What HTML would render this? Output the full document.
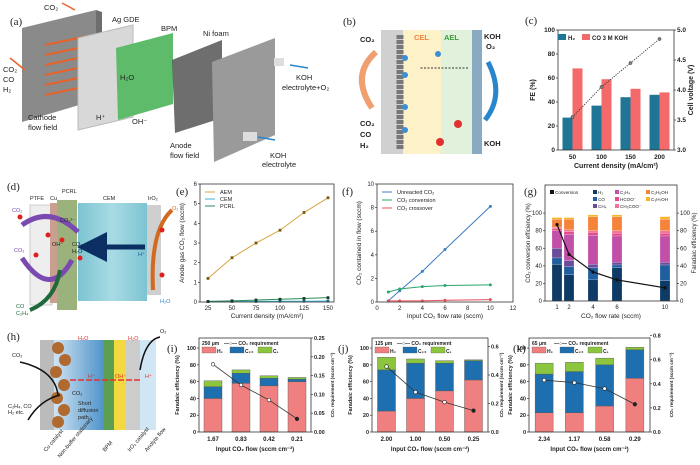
<!DOCTYPE html>
<html><head><meta charset="utf-8"><style>
html,body{margin:0;padding:0;background:#fff;width:700px;height:465px;overflow:hidden}
svg{display:block;font-family:"Liberation Sans",sans-serif}
text{fill:#222}
</style></head><body>
<svg id="fig" width="700" height="465" viewBox="0 0 700 465" xmlns="http://www.w3.org/2000/svg">
<defs>
<linearGradient id="cemg" x1="0" x2="1"><stop offset="0" stop-color="#7cc4d2"/><stop offset="0.5" stop-color="#a9dbe4"/><stop offset="1" stop-color="#7cc4d2"/></linearGradient>
<linearGradient id="hg" x1="0" x2="1"><stop offset="0" stop-color="#cfe4f3"/><stop offset="1" stop-color="#4f93c9"/></linearGradient>
<marker id="ah" markerWidth="6" markerHeight="6" refX="3" refY="3" orient="auto"><path d="M0,0 L6,3 L0,6 z" fill="context-stroke"/></marker>
</defs>
<g>
<text x="10" y="25" font-family="Liberation Serif" font-size="11">(a)</text>
<polygon points="22,28 96,10 96,100 22,122" fill="#8a8a8a"/>
<polygon points="96,10 102,12 102,102 96,100" fill="#6e6e6e"/>
<g stroke="#e8632a" stroke-width="2" fill="none"><path d="M45,45 L88,36 M45,55 L88,46 M45,65 L88,56 M45,75 L88,66 M45,85 L88,76 M45,95 L88,86"/></g>
<polygon points="78,38 133,25 133,117 78,130" fill="#d8d8d8" stroke="#bbb"/>
<polygon points="116,48 173,33 173,104 118,120" fill="#5dbb6a"/>
<polygon points="172,60 222,40 222,118 175,133" fill="#555" opacity="0.85"/>
<polygon points="212,62 275,38 275,135 214,162" fill="#9a9a9a"/>
<rect x="274" y="58" width="10" height="8" fill="#ddd"/><rect x="243" y="132" width="14" height="9" fill="#ddd"/>
<line x1="75" y1="10" x2="62" y2="3" stroke="#e8632a" stroke-width="1.5"/>
<line x1="25" y1="70" x2="10" y2="58" stroke="#e8632a" stroke-width="1.5"/>
<line x1="290" y1="65" x2="308" y2="68" stroke="#2a86cc" stroke-width="1.5"/>
<line x1="275" y1="140" x2="258" y2="137" stroke="#2a86cc" stroke-width="1.5"/>
<g font-size="7.5">
<text x="44" y="10">CO₂</text><text x="112" y="22">Ag GDE</text><text x="161" y="31">BPM</text><text x="203" y="36">Ni foam</text>
<text x="3" y="72">CO₂</text><text x="3" y="82">CO</text><text x="3" y="92">H₂</text>
<text x="28" y="120">Cathode</text><text x="28" y="130">flow field</text>
<text x="96" y="120">H⁺</text><text x="120" y="80">H₂O</text><text x="132" y="124">OH⁻</text>
<text x="296" y="80">KOH</text><text x="282" y="90">electrolyte+O₂</text>
<text x="170" y="148">Anode</text><text x="170" y="158">flow field</text>
<text x="270" y="158">KOH</text><text x="262" y="167">electrolyte</text>
</g></g>
<g>
<text x="343" y="25" font-family="Liberation Serif" font-size="11">(b)</text>
<rect x="381" y="30" width="22" height="124" fill="#d0d0d0"/>
<rect x="403" y="30" width="38" height="124" fill="#fdf1c8"/>
<rect x="441" y="30" width="31" height="124" fill="#e1f1dc"/>
<rect x="472" y="30" width="10" height="124" fill="#8aa9c2"/>
<line x1="400" y1="35" x2="400" y2="150" stroke="#777" stroke-width="7" stroke-dasharray="4,1"/>
<g fill="#3a8fd6"><circle cx="405" cy="58" r="3"/><circle cx="405" cy="75" r="3"/><circle cx="405" cy="107" r="3"/><circle cx="405" cy="130" r="3"/><circle cx="438" cy="54" r="3"/></g>
<line x1="468" y1="68" x2="420" y2="68" stroke="#333" stroke-dasharray="2,1.5"/>
<path d="M376,52 Q350,75 372,108" stroke="#f0a070" stroke-width="6" fill="none"/>
<g font-size="7.5" font-weight="bold"><text x="360" y="42">CO₂</text><text x="360" y="126">CO₂</text><text x="360" y="137">CO</text><text x="360" y="148">H₂</text>
<text x="414" y="40" style="fill:#f08040">CEL</text><text x="444" y="40" style="fill:#3c9a3c">AEL</text>
<text x="484" y="39">KOH</text><text x="486" y="49">O₂</text><text x="484" y="146">KOH</text></g>
<path d="M488,62 Q505,95 485,120" stroke="#2a86cc" stroke-width="5" fill="none"/>
<circle cx="458" cy="124" r="4" fill="#e03030"/><circle cx="440" cy="142" r="4" fill="#e03030"/>
</g>
<g>
<text x="7" y="190" font-family="Liberation Serif" font-size="11">(d)</text>
<rect x="30" y="205" width="22" height="100" fill="#eee" stroke="#ccc"/>
<rect x="50" y="203" width="10" height="100" fill="#c9a090"/>
<rect x="57" y="200" width="20" height="110" fill="#9bb27c"/>
<rect x="78" y="203" width="69" height="98" fill="url(#cemg)"/>
<rect x="147" y="205" width="14" height="90" fill="#cfcfcf"/>
<line x1="145" y1="247" x2="92" y2="247" stroke="#0b2f63" stroke-width="5" marker-end="url(#ah)"/>
<path d="M22,225 Q50,205 78,232" stroke="#7a4ab0" stroke-width="5" fill="none"/>
<path d="M72,260 Q50,300 22,258" stroke="#7a4ab0" stroke-width="5" fill="none"/>
<path d="M60,270 Q55,300 30,310" stroke="#1f6a3a" stroke-width="4" fill="none"/>
<path d="M153,290 Q150,230 172,210" stroke="#d06a20" stroke-width="4" fill="none"/>
<g fill="#e02020"><circle cx="20" cy="217" r="2.5"/><circle cx="48" cy="235" r="2.5"/><circle cx="62" cy="240" r="2.5"/><circle cx="80" cy="258" r="2.5"/><circle cx="36" cy="255" r="2.5"/><circle cx="162" cy="230" r="2.5"/><circle cx="162" cy="275" r="2.5"/></g>
<g font-size="5.5"><text x="30" y="200">PTFE</text><text x="50" y="200">Cu</text><text x="62" y="193">PCRL</text><text x="103" y="200">CEM</text><text x="148" y="200">IrO₂</text>
<text x="12" y="212" style="fill:#7a4ab0">CO₂</text><text x="14" y="252" style="fill:#7a4ab0">CO₂</text><text x="60" y="222">CO₃²⁻</text><text x="52" y="246">OH⁻</text><text x="72" y="246">CO₂</text><text x="72" y="253">H₂O</text><text x="138" y="256" style="fill:#1a5aa0">H⁺</text>
<text x="172" y="210" style="fill:#d06a20">O₂</text><text x="160" y="303" style="fill:#2a86cc">H₂O</text><text x="16" y="308" style="fill:#1f6a3a">CO</text><text x="16" y="315" style="fill:#1f6a3a">C₂H₄</text></g>
</g>
<g>
<text x="7" y="340" font-family="Liberation Serif" font-size="11">(h)</text>
<rect x="40" y="340" width="14" height="90" fill="#bbb"/>
<rect x="54" y="340" width="50" height="90" fill="url(#hg)"/>
<rect x="104" y="340" width="10" height="90" fill="#5aa050"/>
<rect x="114" y="340" width="12" height="90" fill="#f2d940"/>
<rect x="126" y="340" width="14" height="90" fill="#ccc"/>
<rect x="140" y="340" width="16" height="90" fill="#d0e6f4"/>
<g fill="#b06a30"><circle cx="58" cy="348" r="6"/><circle cx="65" cy="360" r="6"/><circle cx="56" cy="372" r="6"/><circle cx="64" cy="385" r="6"/><circle cx="57" cy="398" r="6"/><circle cx="64" cy="410" r="6"/><circle cx="58" cy="422" r="6"/></g>
<line x1="140" y1="380" x2="68" y2="380" stroke="#e83030" stroke-width="1.5" stroke-dasharray="6,2"/>
<path d="M20,362 Q55,370 58,395 M60,395 Q40,400 28,420" stroke="#111" stroke-width="1.5" fill="none"/>
<path d="M140,370 Q145,340 160,337" stroke="#111" stroke-width="1.5" fill="none"/>
<g font-size="5.5"><text x="12" y="357">CO₂</text><text x="8" y="408">C₂H₄, CO</text><text x="8" y="414">H₂ etc.</text>
<text x="78" y="340" style="fill:#e03030">H₂O</text><text x="128" y="340" style="fill:#e03030">H₂O</text><text x="160" y="333">O₂</text>
<text x="88" y="378" style="fill:#e03030">H⁺</text><text x="115" y="378" style="fill:#e03030">OH⁻</text><text x="145" y="378" style="fill:#e03030">H⁺</text>
<text x="72" y="395">CO₂</text><text x="78" y="405">Short</text><text x="78" y="412">diffusion</text><text x="78" y="419">path</text>
<text transform="translate(46,452) rotate(-50)">Cu catalyst</text><text transform="translate(60,458) rotate(-50)">Non-buffer stationary</text><text transform="translate(105,452) rotate(-50)">BPM</text><text transform="translate(130,452) rotate(-50)">IrO₂ catalyst</text><text transform="translate(147,452) rotate(-50)">Anolyte flow</text></g>
</g>
</svg>
<script>
const NS='http://www.w3.org/2000/svg';
const svg=document.getElementById('fig');
function el(tag,attrs,parent){const e=document.createElementNS(NS,tag);for(const k in attrs)e.setAttribute(k,attrs[k]);(parent||svg).appendChild(e);return e;}
function txt(s,x,y,size,anchor,parent,extra){const t=el('text',Object.assign({x:x,y:y,'font-size':size,'text-anchor':anchor||'start'},extra||{}),parent);t.textContent=s;return t;}
function lin(d0,d1,r0,r1){return v=>r0+(v-d0)/(d1-d0)*(r1-r0);}

const cCats=['50','100','150','200'];
const cH2=[27,37,44,46];
const cCO=[68,59,51,48];
const cVolt=[3.55,4.05,4.45,4.85];
const cLeftTicks=[0,20,40,60,80,100];
const cRightTicks=[3.0,3.5,4.0,4.5,5.0];
const eX=[25,50,75,100,125,150];
const eAEM=[1.2,2.25,3.0,3.65,4.55,5.3];
const eCEM=[0.02,0.03,0.03,0.04,0.04,0.05];
const ePCRL=[0.03,0.06,0.1,0.14,0.18,0.22];
const eYTicks=[0,1,2,3,4,5,6];
const fX=[1,2,4,6,10];
const fUnreacted=[0.1,0.95,2.6,4.45,8.1];
const fConversion=[0.85,1.1,1.3,1.4,1.45];
const fCrossover=[0.1,0.1,0.1,0.15,0.2];
const fXTicks=[0,2,4,6,8,10,12];
const fYTicks=[0,2,4,6,8,10];
const gX=[1,2,4,6,10];
const gH2=[42,30,24,38,23];
const gCO=[7,9,14,3,18];
const gCH4=[11,7,4,3,3];
const gC2H4=[20,30,33,30,30];
const gHCOO=[2,3,3,3,3];
const gCH3COO=[2,2,2,3,3];
const gC2H5OH=[9,12,16,16,13];
const gC3H7OH=[2,2,2,2,3];
const gConversion=[87,53,33,24,15];
const gYTicks=[0,20,40,60,80,100];
const iCats=['1.67','0.83','0.42','0.21'];
const iH2=[40,58,55,60];
const iC2=[14,12,9,3];
const iC1=[7,4,3,2];
const iReq=[0.18,0.125,0.085,0.035];
const iRTicks=[0,0.05,0.10,0.15,0.20,0.25];
const jCats=['2.00','1.00','0.50','0.25'];
const jH2=[25,40,49,62];
const jC2=[49,42,33,23];
const jC1=[15,5,3,1];
const jReq=[0.46,0.28,0.21,0.15];
const jRTicks=[0,0.2,0.4,0.6];
const kCats=['2.34','1.17','0.58','0.29'];
const kH2=[23,23,31,64];
const kC2=[46,49,49,34];
const kC1=[13,11,8,3];
const kReq=[0.43,0.41,0.36,0.23];
const kRTicks=[0,0.2,0.4,0.6,0.8];
const ijkLeftTicks=[0,20,40,60,80,100];

function frame(x0,y0,x1,y1,name){const r=el('rect',{x:x0,y:y0,width:x1-x0,height:y1-y0,fill:'none',stroke:'#333','stroke-width':0.8});


return r;}
function yTicks(vals,sc,x,side,fmt,size,bold){vals.forEach(v=>{const y=sc(v);el('line',{x1:x,x2:x+(side<0?-2:2),y1:y,y2:y,stroke:'#333','stroke-width':0.7});
const t=txt(fmt(v),x+(side<0?-3:3),y+2,size||5.5,side<0?'end':'start',null,bold?{'font-weight':'bold'}:{});

});}
function xLabel(s,x,y,size,bold){const t=txt(s,x,y,size||5.5,'middle',null,bold?{'font-weight':'bold'}:{});


return t;}
function vTitle(s,x,y,size,name,bold){const t=txt(s,0,0,size||6,'middle',null,Object.assign({transform:`translate(${x},${y}) rotate(-90)`},bold?{'font-weight':'bold'}:{}));

}
function hTitle(s,x,y,size,name,bold){const t=txt(s,x,y,size||6.5,'middle',null,bold?{'font-weight':'bold'}:{});

}
function plabel(s,x,y){const t=txt(s,x,y,11,'start',null,{'font-family':'Liberation Serif'});

}

(function(){const X0=558,X1=674,Y0=30,Y1=150;
plabel('(c)',525,24);
const yl=lin(0,100,Y1,Y0),yr=lin(3,5,Y1,Y0);const bw=(X1-X0)/cCats.length;
cCats.forEach((c,i)=>{const cx=X0+bw*(i+0.5);
const b1=el('rect',{x:cx-10,y:yl(cH2[i]),width:10,height:Y1-yl(cH2[i]),fill:'#1f7595'});


const b2=el('rect',{x:cx,y:yl(cCO[i]),width:10,height:Y1-yl(cCO[i]),fill:'#f46a6a'});


xLabel(c,cx,Y1+9,6.5,true);});
const pts=cVolt.map((v,i)=>[X0+bw*(i+0.5),yr(v)]);
const pl=el('polyline',{points:pts.map(p=>p.join(',')).join(' '),fill:'none',stroke:'#333','stroke-width':0.9,'stroke-dasharray':'1.2,1.2'});


pts.forEach(p=>{const m=el('circle',{cx:p[0],cy:p[1],r:1.6,fill:'#888',stroke:'#333','stroke-width':0.5});

});
frame(X0,Y0,X1,Y1,'plot-frame-c');
yTicks(cLeftTicks,yl,X0,-1,v=>v,6.5,true);yTicks(cRightTicks,yr,X1,1,v=>v.toFixed(1),6.5,true);
vTitle('FE (%)',535,90,7,'y-axis-title-fe',true);vTitle('Cell voltage (V)',693,90,7,'y-axis-title-voltage',true);
hTitle('Current density (mA/cm²)',616,168,7,'x-axis-title-c',true);
const l1=el('rect',{x:558,y:34,width:8,height:6,fill:'#1f7595'});
txt('H₂',568,40,6,'start',null,{'font-weight':'bold'});
const l2=el('rect',{x:582,y:34,width:8,height:6,fill:'#f46a6a'});
txt('CO  3 M KOH',592,40,6,'start',null,{'font-weight':'bold'});})();

(function(){const X0=200,X1=334,Y0=184,Y1=302;
plabel('(e)',176,195);
const xs=lin(25,150,208,328),ys=lin(0,6,Y1,Y0);
[[eAEM,'#d9a441','aem-line','#7a5a10'],[eCEM,'#3ab3d4','cem-line','#1a6a80'],[ePCRL,'#2e8b5c','pcrl-line','#123a24']].forEach(s=>{
const pl=el('polyline',{points:eX.map((x,i)=>xs(x)+','+ys(s[0][i])).join(' '),fill:'none',stroke:s[1],'stroke-width':1});


eX.forEach((x,i)=>{const m=el('rect',{x:xs(x)-1.4,y:ys(s[0][i])-1.4,width:2.8,height:2.8,fill:s[3]});

});});
frame(X0,Y0,X1,Y1,'plot-frame-e');
yTicks(eYTicks,ys,X0,-1,v=>v,6);eX.forEach(x=>xLabel(x,xs(x),Y1+8,6));
vTitle('Anode gas CO₂ flow (sccm)',184,243,6.5,'y-axis-title-e');hTitle('Current density (mA/cm²)',267,318,6.5,'x-axis-title-e');
[['AEM','#d9a441',194],['CEM','#3ab3d4',201],['PCRL','#2e8b5c',208]].forEach(l=>{const ln=el('line',{x1:205,x2:215,y1:l[2]-2,y2:l[2]-2,stroke:l[1],'stroke-width':1});


txt(l[0],220,l[2],5.5);});})();

(function(){const X0=377,X1=513,Y0=184,Y1=302;
plabel('(f)',342,195);
const xs=lin(0,12,X0,X1),ys=lin(0,10,Y1,Y0);
[[fUnreacted,'#3b7dc0','unreacted-co2-line'],[fConversion,'#2aa86a','co2-conversion-line'],[fCrossover,'#e8505a','co2-crossover-line']].forEach(s=>{
const pl=el('polyline',{points:fX.map((x,i)=>xs(x)+','+ys(s[0][i])).join(' '),fill:'none',stroke:s[1],'stroke-width':1});


fX.forEach((x,i)=>{const m=el('circle',{cx:xs(x),cy:ys(s[0][i]),r:1.5,fill:s[1]});

});});
frame(X0,Y0,X1,Y1,'plot-frame-f');
yTicks(fYTicks,ys,X0,-1,v=>v,6);fXTicks.forEach(x=>xLabel(x,xs(x),Y1+8,6));
vTitle('CO₂ contained in flow (sccm)',361,243,6.5,'y-axis-title-f');hTitle('Input CO₂ flow rate (sccm)',445,318,6.5,'x-axis-title-f');
[['Unreacted CO₂','#3b7dc0',194],['CO₂ conversion','#2aa86a',202],['CO₂ crossover','#e8505a',210]].forEach(l=>{const ln=el('line',{x1:382,x2:392,y1:l[2]-2,y2:l[2]-2,stroke:l[1],'stroke-width':1});


txt(l[0],397,l[2],5.5);});})();

(function(){const X0=545,X1=677,Y0=185,Y1=301;
plabel('(g)',524,195);
const xs=lin(0,11,X0,X1),ys=lin(0,132,Y1,Y0);
const series=[[gH2,'#0e3a66','bar-h2'],[gCO,'#1f5f9f','bar-co'],[gCH4,'#6b4c9a','bar-ch4'],[gC2H4,'#c24fa8','bar-c2h4'],[gHCOO,'#e84a8a','bar-hcoo'],[gCH3COO,'#f27596','bar-ch3coo'],[gC2H5OH,'#f5843a','bar-c2h5oh'],[gC3H7OH,'#f7b52a','bar-c3h7oh']];
gX.forEach((x,i)=>{let acc=0;series.forEach(s=>{const v=s[0][i];const r=el('rect',{x:xs(x)-5,y:ys(acc+v),width:10,height:ys(acc)-ys(acc+v),fill:s[1],stroke:'#fff','stroke-width':0.2});


acc+=v;});xLabel(x,xs(x),Y1+8,6);});
const pl=el('polyline',{points:gX.map((x,i)=>xs(x)+','+ys(gConversion[i])).join(' '),fill:'none',stroke:'#111','stroke-width':1.2});


gX.forEach((x,i)=>{const m=el('circle',{cx:xs(x),cy:ys(gConversion[i]),r:1.6,fill:'#111'});

});
frame(X0,Y0,X1,Y1,'plot-frame-g');
yTicks(gYTicks,ys,X0,-1,v=>v,6);yTicks(gYTicks,ys,X1,1,v=>v,6);
vTitle('CO₂ conversion efficiency (%)',530,243,6,'y-axis-title-g');vTitle('Faradaic efficiency (%)',696,243,6,'y-axis-title-g-right');
hTitle('CO₂ flow rate (sccm)',611,318,6.5,'x-axis-title-g');
const lg=[['Conversion','#111',550,194],['H₂','#0e3a66',593,194],['CO','#1f5f9f',593,201],['CH₄','#6b4c9a',593,208],['C₂H₄','#c24fa8',615,194],['HCOO⁻','#e84a8a',615,201],['CH₃COO⁻','#f27596',615,208],['C₂H₅OH','#f5843a',646,194],['C₃H₇OH','#f7b52a',646,201]];
lg.forEach(l=>{const r=el('rect',{x:l[2],y:l[3]-4,width:4,height:4,fill:l[1]});


txt(l[0],l[2]+5,l[3],4.6);});})();

function stackPanel(lbl,lblX,X0,X1,cats,h2,c2,c1,req,rTicks,rMax,thick,name,rTitleOff,lTitleOff){const Y0=338,Y1=432;
plabel(lbl,lblX,352);
const yl=lin(0,112,Y1,Y0),yr=lin(0,rMax,Y1,Y0);const bw=(X1-X0)/cats.length;
cats.forEach((c,i)=>{const cx=X0+bw*(i+0.5);let acc=0;
[[h2,'#f08080','bar-h2'],[c2,'#1e6fb0','bar-c2plus'],[c1,'#8cc63f','bar-c1']].forEach(s=>{const v=s[0][i];
const r=el('rect',{x:cx-9,y:yl(acc+v),width:18,height:yl(acc)-yl(acc+v),fill:s[1],stroke:'#555','stroke-width':0.4});


acc+=v;});xLabel(c,cx,Y1+9,6,true);});
const pts=req.map((v,i)=>[X0+bw*(i+0.5),yr(v)]);
const pl=el('polyline',{points:pts.map(p=>p.join(',')).join(' '),fill:'none',stroke:'#333','stroke-width':0.8});


pts.forEach((p,i)=>{const m=el('circle',{cx:p[0],cy:p[1],r:1.8,fill:i==pts.length-1?'#222':'#fff',stroke:'#222','stroke-width':0.6});

});
frame(X0,Y0,X1,Y1,name);
yTicks(ijkLeftTicks,yl,X0,-1,v=>v,5.5,true);yTicks(rTicks,yr,X1,1,v=>v.toFixed(thick),5.5,true);
vTitle('Faradaic efficiency (%)',X0-lTitleOff,385,5.5,'y-axis-title-fe',true);vTitle('CO₂ requirement (sccm cm⁻²)',X1+rTitleOff,385,4.6,'y-axis-title-co2-req',true);
hTitle('Input CO₂ flow (sccm cm⁻²)',(X0+X1)/2,451,6,'x-axis-title',true);
txt(name==='plot-frame-i'?'250 μm':name==='plot-frame-j'?'125 μm':'65 μm',X0+3,Y0+7,5,'start',null,{'font-weight':'bold'});
txt('—○— CO₂ requirement',X0+25,Y0+7,5,'start',null,{'font-weight':'bold'});
[['H₂','#f08080',0],['C₂₊','#1e6fb0',1],['C₁','#8cc63f',2]].forEach(l=>{const r=el('rect',{x:X0+3+l[2]*28,y:Y0+9,width:14,height:6,fill:l[1],stroke:'#555','stroke-width':0.3});


txt(l[0],X0+18+l[2]*28,Y0+15,5,'start',null,{'font-weight':'bold'});});}
stackPanel('(i)',167,199,311,iCats,iH2,iC2,iC1,iReq,iRTicks,0.25,2,'plot-frame-i',23,20);
stackPanel('(j)',338,372,488,jCats,jH2,jC2,jC1,jReq,jRTicks,0.66,1,'plot-frame-j',15,20);
stackPanel('(k)',513,529,650,kCats,kH2,kC2,kC1,kReq,kRTicks,0.78,1,'plot-frame-k',23,17);
</script>
</body></html>
